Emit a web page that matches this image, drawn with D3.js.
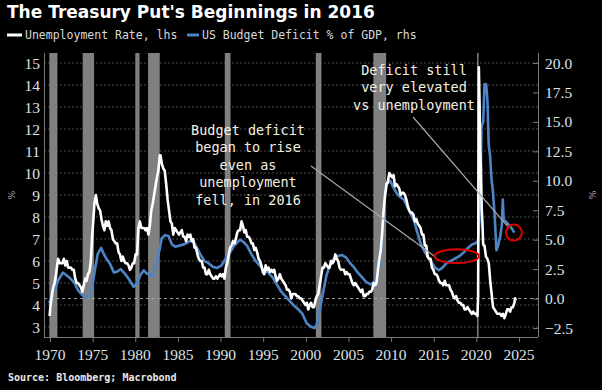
<!DOCTYPE html>
<html><head><meta charset="utf-8">
<script src="https://cdn.jsdelivr.net/npm/d3@7"></script>
<style>html,body{margin:0;padding:0;background:#000;} svg{display:block}</style>
</head><body>
<svg id="c" width="602" height="390"></svg>
<script>
const title = "The Treasury Put's Beginnings in 2016";
const seriesNames = ["Unemployment Rate, lhs", "US Budget Deficit % of GDP, rhs"];
const sourceText = "Source: Bloomberg; Macrobond";
const xTicks = [1970,1975,1980,1985,1990,1995,2000,2005,2010,2015,2020,2025];
const leftTicks = [3,4,5,6,7,8,9,10,11,12,13,14,15];
const rightTicks = [-2.5,0,2.5,5,7.5,10,12.5,15,17.5,20];
const recessions = [[1969.92,1970.87],[1973.83,1975.17],[1980.0,1980.5],[1981.5,1982.87],[1990.5,1991.17],[2001.17,2001.83],[2007.92,2009.42],[2020.08,2020.25]];
const annotation1 = ["Budget deficit","began to rise","even as","unemployment","fell, in 2016"];
const annotation2 = ["Deficit still","very elevated","vs unemployment"];

// [year, month, unemployment %]
const unemployment = [
[1969,12,3.5],
[1970,1,3.9],[1970,3,4.4],[1970,5,4.8],[1970,7,5.0],[1970,9,5.4],[1970,11,5.9],[1970,12,6.1],
[1971,2,5.9],[1971,4,5.9],[1971,6,5.9],[1971,8,6.1],[1971,10,5.8],[1971,12,6.0],
[1972,2,5.7],[1972,4,5.7],[1972,6,5.7],[1972,8,5.6],[1972,10,5.6],[1972,12,5.2],
[1973,2,5.0],[1973,4,5.0],[1973,6,4.9],[1973,8,4.8],[1973,10,4.6],[1973,12,4.9],
[1974,2,5.2],[1974,4,5.1],[1974,6,5.4],[1974,8,5.5],[1974,10,6.0],[1974,12,7.2],
[1975,2,8.1],[1975,3,8.6],[1975,5,9.0],[1975,7,8.6],[1975,9,8.4],[1975,11,8.3],
[1976,1,7.9],[1976,3,7.6],[1976,5,7.4],[1976,7,7.8],[1976,9,7.6],[1976,11,7.8],
[1977,1,7.5],[1977,3,7.4],[1977,5,7.0],[1977,7,6.9],[1977,9,6.8],[1977,11,6.8],
[1978,1,6.4],[1978,3,6.3],[1978,5,6.0],[1978,7,6.2],[1978,9,6.0],[1978,11,5.9],
[1979,1,5.9],[1979,3,5.8],[1979,5,5.6],[1979,7,5.7],[1979,9,5.9],[1979,11,5.9],
[1980,1,6.3],[1980,3,6.3],[1980,5,7.5],[1980,7,7.8],[1980,9,7.5],[1980,11,7.5],
[1981,1,7.5],[1981,3,7.4],[1981,5,7.5],[1981,7,7.2],[1981,9,7.6],[1981,11,8.3],
[1982,1,8.6],[1982,3,9.0],[1982,5,9.4],[1982,7,9.8],[1982,9,10.1],[1982,11,10.8],[1982,12,10.8],
[1983,2,10.4],[1983,4,10.2],[1983,6,10.1],[1983,8,9.5],[1983,10,8.8],[1983,12,8.3],
[1984,2,7.8],[1984,4,7.7],[1984,6,7.2],[1984,8,7.5],[1984,10,7.4],[1984,12,7.3],
[1985,2,7.2],[1985,4,7.3],[1985,6,7.4],[1985,8,7.1],[1985,10,7.1],[1985,12,6.9],
[1986,2,7.2],[1986,4,7.1],[1986,6,7.2],[1986,8,6.9],[1986,10,7.0],[1986,12,6.6],
[1987,2,6.6],[1987,4,6.3],[1987,6,6.1],[1987,8,6.0],[1987,10,6.0],[1987,12,5.7],
[1988,2,5.7],[1988,4,5.4],[1988,6,5.4],[1988,8,5.6],[1988,10,5.4],[1988,12,5.3],
[1989,2,5.2],[1989,4,5.2],[1989,6,5.3],[1989,8,5.2],[1989,10,5.3],[1989,12,5.4],
[1990,2,5.3],[1990,4,5.4],[1990,6,5.2],[1990,8,5.7],[1990,10,5.9],[1990,12,6.3],
[1991,2,6.6],[1991,4,6.7],[1991,6,6.9],[1991,8,6.8],[1991,10,7.0],[1991,12,7.3],
[1992,2,7.4],[1992,4,7.4],[1992,6,7.8],[1992,8,7.6],[1992,10,7.3],[1992,12,7.4],
[1993,2,7.1],[1993,4,7.1],[1993,6,7.0],[1993,8,6.8],[1993,10,6.8],[1993,12,6.5],
[1994,2,6.6],[1994,4,6.4],[1994,6,6.1],[1994,8,6.0],[1994,10,5.8],[1994,12,5.5],
[1995,2,5.4],[1995,4,5.8],[1995,6,5.6],[1995,8,5.7],[1995,10,5.5],[1995,12,5.6],
[1996,2,5.5],[1996,4,5.6],[1996,6,5.3],[1996,8,5.1],[1996,10,5.2],[1996,12,5.4],
[1997,2,5.2],[1997,4,5.1],[1997,6,5.0],[1997,8,4.9],[1997,10,4.7],[1997,12,4.7],
[1998,2,4.6],[1998,4,4.3],[1998,6,4.5],[1998,8,4.5],[1998,10,4.5],[1998,12,4.4],
[1999,2,4.4],[1999,4,4.3],[1999,6,4.3],[1999,8,4.2],[1999,10,4.1],[1999,12,4.0],
[2000,2,4.1],[2000,4,3.8],[2000,6,4.0],[2000,8,4.1],[2000,10,3.9],[2000,12,3.9],
[2001,2,4.2],[2001,4,4.4],[2001,6,4.5],[2001,8,4.9],[2001,10,5.3],[2001,12,5.7],
[2002,2,5.7],[2002,4,5.9],[2002,6,5.8],[2002,8,5.7],[2002,10,5.7],[2002,12,6.0],
[2003,2,5.9],[2003,4,6.0],[2003,6,6.3],[2003,8,6.1],[2003,10,6.0],[2003,12,5.7],
[2004,2,5.6],[2004,4,5.6],[2004,6,5.6],[2004,8,5.4],[2004,10,5.5],[2004,12,5.4],
[2005,2,5.4],[2005,4,5.2],[2005,6,5.0],[2005,8,4.9],[2005,10,5.0],[2005,12,4.9],
[2006,2,4.8],[2006,4,4.7],[2006,6,4.6],[2006,8,4.7],[2006,10,4.4],[2006,12,4.4],
[2007,2,4.5],[2007,4,4.5],[2007,6,4.6],[2007,8,4.6],[2007,10,4.7],[2007,12,5.0],
[2008,2,4.9],[2008,4,5.0],[2008,6,5.6],[2008,8,6.1],[2008,10,6.5],[2008,12,7.3],
[2009,2,8.3],[2009,4,9.0],[2009,6,9.5],[2009,8,9.6],[2009,10,10.0],[2009,12,9.9],
[2010,2,9.8],[2010,4,9.9],[2010,6,9.4],[2010,8,9.5],[2010,10,9.4],[2010,12,9.3],
[2011,2,9.0],[2011,4,9.1],[2011,6,9.1],[2011,8,9.0],[2011,10,8.8],[2011,12,8.5],
[2012,2,8.3],[2012,4,8.2],[2012,6,8.2],[2012,8,8.1],[2012,10,7.8],[2012,12,7.9],
[2013,2,7.7],[2013,4,7.6],[2013,6,7.5],[2013,8,7.2],[2013,10,7.2],[2013,12,6.7],
[2014,2,6.7],[2014,4,6.2],[2014,6,6.1],[2014,8,6.1],[2014,10,5.7],[2014,12,5.6],
[2015,2,5.4],[2015,4,5.4],[2015,6,5.3],[2015,8,5.1],[2015,10,5.0],[2015,12,5.0],
[2016,2,4.9],[2016,4,5.1],[2016,6,4.9],[2016,8,4.9],[2016,10,4.9],[2016,12,4.7],
[2017,2,4.6],[2017,4,4.4],[2017,6,4.3],[2017,8,4.4],[2017,10,4.2],[2017,12,4.1],
[2018,2,4.1],[2018,4,4.0],[2018,6,4.0],[2018,8,3.8],[2018,10,3.8],[2018,12,3.9],
[2019,2,3.8],[2019,4,3.7],[2019,6,3.6],[2019,8,3.7],[2019,10,3.6],[2019,12,3.6],
[2020,2,3.5],[2020,3,4.4],[2020,4,14.8],[2020,5,13.2],[2020,6,11.0],[2020,7,10.2],[2020,8,8.4],[2020,9,7.8],[2020,10,6.8],[2020,11,6.7],[2020,12,6.7],
[2021,2,6.2],[2021,4,6.1],[2021,6,5.9],[2021,8,5.1],[2021,10,4.5],[2021,12,3.9],
[2022,2,3.8],[2022,4,3.7],[2022,6,3.6],[2022,8,3.6],[2022,10,3.6],[2022,12,3.5],
[2023,2,3.6],[2023,4,3.4],[2023,6,3.6],[2023,8,3.8],[2023,10,3.8],[2023,12,3.7],
[2024,2,3.9],[2024,4,3.9],[2024,6,4.1],[2024,7,4.3],[2024,8,4.2]
];

// [decimal year, budget deficit % of GDP]
const deficit = [
[1969.9,-0.4],[1970.2,0.2],[1970.6,0.9],[1971.0,1.6],[1971.5,2.2],[1971.9,2.0],[1972.4,1.7],[1972.9,1.3],
[1973.3,0.7],[1973.8,0.3],[1974.3,0.1],[1974.7,0.3],[1975.0,1.2],[1975.3,2.6],[1975.6,3.8],[1976.0,4.3],
[1976.3,3.8],[1976.6,3.4],[1977.0,3.0],[1977.5,2.2],[1977.9,2.3],[1978.3,2.5],[1978.8,2.1],[1979.3,1.6],
[1979.8,1.0],[1980.2,1.3],[1980.6,2.0],[1981.0,2.4],[1981.4,2.1],[1981.8,2.0],[1982.1,1.9],[1982.5,3.0],
[1982.8,4.0],[1983.1,5.1],[1983.5,5.4],[1983.9,5.3],[1984.3,4.6],[1984.7,4.4],[1985.2,4.5],[1985.7,4.6],
[1986.2,4.8],[1986.7,5.0],[1987.1,4.5],[1987.6,3.8],[1988.1,3.2],[1988.6,3.0],[1989.1,2.7],[1989.6,2.6],
[1990.1,2.8],[1990.6,3.4],[1991.1,3.9],[1991.6,4.5],[1992.0,4.8],[1992.3,5.0],[1992.7,4.8],[1993.1,4.5],
[1993.6,3.8],[1994.1,3.2],[1994.6,2.8],[1995.1,2.4],[1995.6,2.2],[1996.1,1.8],[1996.6,1.2],[1997.1,0.6],
[1997.6,0.2],[1998.1,-0.2],[1998.6,-0.6],[1999.1,-0.9],[1999.6,-1.3],[2000.1,-2.1],[2000.6,-2.4],[2001.0,-2.5],
[2001.3,-2.2],[2001.6,-1.1],[2002.0,0.4],[2002.4,1.9],[2002.8,2.8],[2003.2,3.3],[2003.7,3.6],[2004.2,3.7],
[2004.7,3.5],[2005.2,3.0],[2005.7,2.6],[2006.1,2.2],[2006.6,1.8],[2007.1,1.4],[2007.6,1.2],[2008.0,1.4],
[2008.4,1.9],[2008.7,3.0],[2009.0,5.5],[2009.2,8.3],[2009.5,9.7],[2009.9,10.0],[2010.3,9.4],[2010.7,8.9],
[2011.1,8.6],[2011.5,8.4],[2011.9,7.8],[2012.3,7.2],[2012.7,6.6],[2013.0,5.8],[2013.5,4.6],[2014.0,3.9],
[2014.4,3.4],[2014.8,3.0],[2015.2,2.6],[2015.6,2.4],[2016.0,2.6],[2016.5,3.0],[2017.0,3.2],[2017.5,3.4],
[2018.0,3.6],[2018.5,3.9],[2019.0,4.3],[2019.5,4.6],[2019.9,4.7],[2020.2,4.9],[2020.35,6.5],[2020.5,10.0],
[2020.6,14.6],[2020.8,15.0],[2020.95,18.2],[2021.15,18.2],[2021.3,16.8],[2021.45,13.0],[2021.6,12.2],[2021.75,10.4],
[2021.95,9.0],[2022.15,7.0],[2022.35,4.1],[2022.55,4.5],[2022.8,5.3],[2023.0,6.3],[2023.1,8.4],[2023.2,6.7],
[2023.5,6.5],[2023.9,6.2],[2024.2,5.9],[2024.45,5.6]
];

// highlights (data coordinates)
const ellipseMark = {year: 2017.7, deficit: 3.6};
const circleMark = {year: 2024.4, deficit: 5.6};

const svg = d3.select("#c");
svg.append("rect").attr("width",602).attr("height",390).attr("fill","#000");

const plot = {left:44, right:538, top:53, bottom:337};
const x = d3.scaleLinear().domain([1970,2025]).range([50,519]);
const yL = d3.scaleLinear().domain([3,15]).range([327,63]);
const yR = d3.scaleLinear().domain([-2.5,20]).range([328,63]);

const axisFont = "'Liberation Serif', serif";
const monoFont = "'DejaVu Sans Mono', monospace";
const labelColor = "#dfe2ea";

// gridlines
svg.append("g").selectAll("line").data(leftTicks).join("line")
  .attr("x1",plot.left).attr("x2",plot.right)
  .attr("y1",d=>yL(d)).attr("y2",d=>yL(d))
  .attr("stroke","#4a4a4a").attr("stroke-width",1).attr("stroke-dasharray","2,2");

// recession bars
svg.append("g").selectAll("rect").data(recessions).join("rect")
  .attr("x",d=>x(d[0])).attr("width",d=>Math.max(1.5,x(d[1])-x(d[0])))
  .attr("y",plot.top).attr("height",plot.bottom-plot.top)
  .attr("fill","#808080");

// zero line (rhs)
svg.append("line").attr("x1",plot.left).attr("x2",plot.right)
  .attr("y1",yR(0)).attr("y2",yR(0))
  .attr("stroke","#a0a0a0").attr("stroke-width",1).attr("stroke-dasharray","3,3");

// axes lines
const ax = svg.append("g").attr("stroke","#7a7a7a").attr("stroke-width",1);
ax.append("line").attr("x1",plot.left+0.5).attr("x2",plot.left+0.5).attr("y1",plot.top).attr("y2",plot.bottom);
ax.append("line").attr("x1",plot.right+0.5).attr("x2",plot.right+0.5).attr("y1",plot.top).attr("y2",plot.bottom);
ax.append("line").attr("x1",plot.left).attr("x2",plot.right).attr("y1",plot.bottom+0.5).attr("y2",plot.bottom+0.5);
ax.selectAll(".xt").data(xTicks).join("line").attr("class","xt")
  .attr("x1",d=>x(d)+0.5).attr("x2",d=>x(d)+0.5).attr("y1",plot.bottom).attr("y2",plot.bottom+5);
ax.selectAll(".rt").data(rightTicks).join("line").attr("class","rt")
  .attr("x1",plot.right-5).attr("x2",plot.right).attr("y1",d=>yR(d)+0.5).attr("y2",d=>yR(d)+0.5);

// tick labels
svg.append("g").selectAll("text").data(leftTicks).join("text")
  .attr("x",40).attr("y",d=>yL(d)+5.5).attr("text-anchor","end")
  .attr("font-family",axisFont).attr("font-size","15.5px").attr("fill",labelColor).text(d=>d);
svg.append("g").selectAll("text").data(rightTicks).join("text")
  .attr("x",545).attr("y",d=>yR(d)+5.5).attr("text-anchor","start")
  .attr("font-family",axisFont).attr("font-size","15.5px").attr("fill",labelColor).text(d=>d3.format(".1f")(d));
svg.append("g").selectAll("text").data(xTicks).join("text")
  .attr("x",d=>x(d)).attr("y",360).attr("text-anchor","middle")
  .attr("font-family",axisFont).attr("font-size","15.5px").attr("fill",labelColor).text(d=>d);

// % unit labels
svg.append("text").attr("transform","translate(15,195) rotate(-90)").attr("text-anchor","middle")
  .attr("font-family",axisFont).attr("font-size","10px").attr("fill","#b8bccc").text("%");
svg.append("text").attr("transform","translate(589,195) rotate(90)").attr("text-anchor","middle")
  .attr("font-family",axisFont).attr("font-size","10px").attr("fill","#c8b0d0").text("%");

// lines
const lineR = d3.line().x(d=>x(d[0])).y(d=>yR(d[1]));
const lineL = d3.line().x(d=>x(d[0]+(d[1]-1)/12+0.04)).y(d=>yL(d[2]));
svg.append("path").datum(deficit).attr("d",lineR).attr("fill","none")
  .attr("stroke","#4d84c6").attr("stroke-width",2.6).attr("stroke-linejoin","round");
svg.append("path").datum(unemployment).attr("d",lineL).attr("fill","none")
  .attr("stroke","#ffffff").attr("stroke-width",2.6).attr("stroke-linejoin","round");

// pointer lines
const ptr = svg.append("g").attr("stroke","#a8a8a8").attr("stroke-width",1.2);
ptr.append("line").attr("x1",311).attr("y1",166).attr("x2",x(ellipseMark.year)-21).attr("y2",yR(ellipseMark.deficit)+1);
ptr.append("line").attr("x1",413).attr("y1",117).attr("x2",x(circleMark.year)-6).attr("y2",yR(circleMark.deficit)-6);

// highlight marks
svg.append("ellipse").attr("cx",x(ellipseMark.year)).attr("cy",yR(ellipseMark.deficit))
  .attr("rx",22).attr("ry",7).attr("fill","none").attr("stroke","#e00000").attr("stroke-width",2);
svg.append("circle").attr("cx",x(circleMark.year)).attr("cy",yR(circleMark.deficit))
  .attr("r",8).attr("fill","none").attr("stroke","#e00000").attr("stroke-width",2);

// annotations
svg.append("g").selectAll("text").data(annotation1).join("text")
  .attr("x",248).attr("y",(d,i)=>134.5+i*17.5).attr("text-anchor","middle")
  .attr("font-family",monoFont).attr("font-size","13.5px").attr("fill","#f3f0e2").text(d=>d);
svg.append("g").selectAll("text").data(annotation2).join("text")
  .attr("x",414).attr("y",(d,i)=>74.5+i*17.5).attr("text-anchor","middle")
  .attr("font-family",monoFont).attr("font-size","13.5px").attr("fill","#f3f0e2").text(d=>d);

// title
svg.append("text").attr("x",7).attr("y",18).attr("font-family","'DejaVu Sans', sans-serif")
  .attr("font-weight","bold").attr("font-size","17px").attr("fill","#ffffff").text(title);

// legend
svg.append("line").attr("x1",7).attr("x2",22).attr("y1",35).attr("y2",35).attr("stroke","#ffffff").attr("stroke-width",3);
svg.append("text").attr("x",25).attr("y",39).attr("font-family",monoFont).attr("font-size","11.5px").attr("fill","#d8d8d8").text(seriesNames[0]);
svg.append("line").attr("x1",187).attr("x2",199).attr("y1",35).attr("y2",35).attr("stroke","#4d84c6").attr("stroke-width",3);
svg.append("text").attr("x",202).attr("y",39).attr("font-family",monoFont).attr("font-size","11.5px").attr("fill","#d8d8d8").text(seriesNames[1]);

// source
svg.append("text").attr("x",8).attr("y",381).attr("font-family",monoFont).attr("font-weight","bold")
  .attr("font-size","10px").attr("fill","#e8e8e8").text(sourceText);
</script>
</body></html>
